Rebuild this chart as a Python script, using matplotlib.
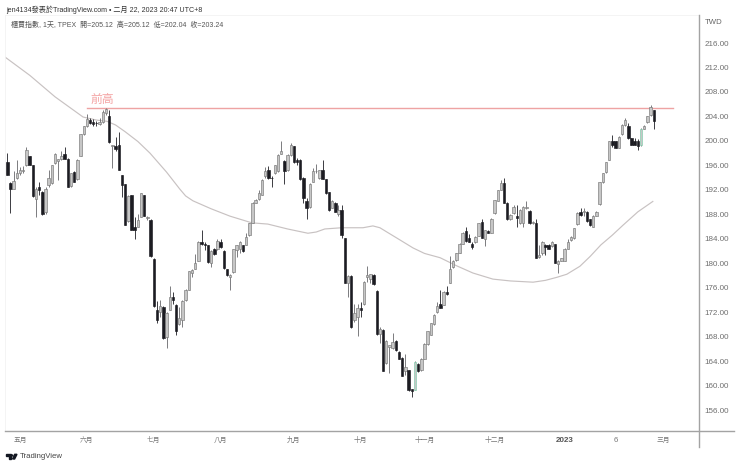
import matplotlib
matplotlib.use('Agg')
import matplotlib.pyplot as plt
from matplotlib.lines import Line2D
from matplotlib.patches import Polygon

plt.rcParams['font.family'] = ['Liberation Sans', 'Noto Sans CJK TC', 'DejaVu Sans']

W, H = 740, 467

opens = [196.6,193.1,192.1,193.9,194.7,195.1,196.0,197.5,196.0,190.5,192.4,191.7,188.4,192.8,193.1,196.4,196.7,197.1,197.9,197.1,
         192.6,194.9,193.7,197.6,201.1,202.4,203.4,203.1,203.0,202.7,203.1,204.5,204.0,199.1,199.2,199.3,194.4,192.9,186.9,191.1,
         186.0,186.0,187.6,191.1,187.4,187.1,180.7,172.3,172.1,172.9,167.9,172.3,174.5,173.2,170.1,170.7,174.0,175.7,178.4,179.1,
         180.4,183.5,183.1,182.9,180.1,182.4,182.3,183.5,182.0,179.0,177.8,178.5,182.2,182.4,182.9,183.0,184.6,186.6,189.9,190.5,
         191.2,194.2,195.2,194.0,194.7,195.0,197.9,196.7,195.2,197.7,199.1,196.9,196.9,194.0,190.2,189.2,193.3,195.0,193.9,195.2,
         193.7,191.6,189.1,189.9,188.0,188.7,184.1,176.7,177.9,170.7,171.2,172.7,173.3,177.8,177.5,178.1,175.5,168.4,169.1,163.7,
         166.3,166.1,167.3,165.5,164.5,162.3,162.5,159.4,159.3,163.6,162.5,164.4,166.8,168.3,170.0,172.0,173.4,173.2,175.3,176.7,
         179.3,180.5,181.7,183.2,185.3,184.1,183.1,183.4,184.5,186.7,184.0,185.3,185.0,188.2,190.2,192.0,193.1,189.9,187.2,188.2,
         187.7,186.5,186.5,189.0,188.6,186.5,186.5,181.0,181.6,183.0,183.0,182.8,183.1,179.9,180.4,180.4,182.4,183.8,184.1,186.4,
         188.4,188.3,188.4,187.2,186.0,187.8,189.6,193.2,194.9,196.9,199.9,199.9,198.9,201.1,202.6,202.5,200.4,200.0,199.9,199.3,
         202.0,203.1,204.2,205.1]
closes = [194.5,192.1,193.4,194.7,195.2,195.3,198.5,196.1,191.0,192.2,191.9,188.0,192.2,193.9,196.0,197.9,197.0,197.6,197.1,192.5,
          194.7,193.3,196.9,201.1,202.4,203.6,203.0,202.8,202.9,203.1,204.8,205.2,199.8,199.3,198.6,195.2,192.8,186.3,191.0,185.5,
          185.5,187.0,191.4,187.8,187.6,181.1,173.0,170.7,173.0,167.7,171.8,174.5,174.0,168.9,171.0,173.9,175.7,178.7,178.9,180.1,
          183.5,183.2,182.9,180.2,182.0,181.5,183.6,182.6,179.2,178.1,178.1,182.3,182.9,183.5,182.0,184.3,186.5,189.9,190.4,191.5,
          193.6,195.0,193.9,193.9,196.0,197.7,198.4,195.0,197.7,199.3,196.5,196.6,193.7,190.6,189.0,193.0,195.0,195.1,195.2,193.8,
          191.4,188.7,190.1,188.4,188.7,184.6,176.8,177.9,169.5,171.8,172.6,172.3,176.9,178.1,178.2,176.6,168.4,169.3,162.4,167.3,
          166.6,167.2,165.8,164.4,161.6,163.1,159.2,159.1,163.9,162.3,164.4,166.8,168.9,170.2,171.6,173.0,172.7,175.3,175.0,179.0,
          180.4,181.6,183.2,185.0,183.6,183.4,182.6,184.3,186.5,184.2,185.4,185.0,187.3,190.3,191.9,193.1,189.9,187.2,187.9,189.2,
          187.4,188.7,189.2,189.2,186.5,186.8,180.9,181.3,183.5,182.7,182.4,183.5,180.1,180.4,180.8,182.4,183.5,184.3,185.7,188.2,
          187.9,188.5,186.9,186.2,187.8,188.4,193.2,194.7,196.5,199.9,199.3,198.9,200.7,202.6,203.4,200.4,199.4,199.4,199.1,202.0,
          202.5,204.0,205.6,203.2]
highs = [198.1,193.2,195.0,196.8,195.7,195.9,199.0,197.6,196.1,192.5,193.3,191.8,192.5,195.2,196.1,198.1,197.1,198.3,199.0,197.2,
         194.8,195.0,197.0,201.2,202.5,204.4,203.7,203.5,203.3,203.7,205.0,205.3,205.0,199.4,200.7,201.5,194.4,193.0,191.1,191.2,
         187.6,188.0,191.5,191.2,187.7,187.2,180.8,173.9,174.0,173.0,172.1,176.2,175.3,173.3,172.9,174.0,175.8,178.8,179.0,181.5,
         183.6,185.4,183.4,183.0,182.2,182.5,183.9,183.9,182.1,179.1,178.3,182.4,183.0,183.6,183.0,184.9,186.6,190.0,190.5,191.9,
         193.7,195.7,195.9,194.3,196.1,197.8,200.0,196.9,197.8,199.6,199.2,197.2,197.0,194.1,190.6,193.1,195.5,196.2,195.3,196.8,
         193.8,191.7,190.3,190.0,189.5,189.5,184.2,178.0,178.0,173.4,173.4,173.7,177.1,179.6,178.3,178.2,175.6,169.5,169.2,167.4,
         166.7,168.6,167.4,165.6,164.6,165.2,162.6,159.5,164.0,163.7,164.5,166.9,169.0,170.3,171.7,173.6,175.7,175.4,176.2,181.2,
         180.5,181.7,183.3,185.1,186.0,184.8,183.5,184.5,186.6,187.3,185.5,185.4,187.4,190.4,192.0,193.6,193.9,190.0,188.0,189.5,
         189.5,188.8,189.4,190.2,188.7,186.9,187.3,183.0,183.7,183.1,183.1,183.7,183.2,180.5,180.9,182.5,183.9,184.4,185.8,188.3,
         189.0,189.0,188.6,187.3,187.9,188.6,193.3,194.8,196.6,200.0,200.9,200.0,200.8,202.7,203.7,202.9,200.5,200.4,200.3,202.1,
         202.6,204.1,205.9,205.1]
lows = [194.4,188.2,192.1,193.7,194.4,194.7,195.9,196.0,190.9,187.5,191.2,187.9,188.1,192.5,193.0,196.3,193.6,196.9,197.0,192.4,
        192.5,193.2,193.6,197.5,201.0,202.3,202.8,202.4,202.4,202.6,203.0,204.2,199.7,195.5,198.4,195.2,190.8,186.2,186.8,185.4,
        183.9,185.9,187.5,187.7,187.1,181.0,172.9,170.2,171.2,167.6,166.2,172.3,173.4,168.2,169.9,169.6,173.9,175.6,177.7,179.0,
        180.3,183.0,182.2,180.1,179.3,181.4,182.2,182.5,179.1,177.9,175.6,178.4,181.0,181.7,181.9,183.0,184.5,186.5,189.8,190.4,
        191.1,194.0,193.7,192.5,194.6,194.9,197.9,193.0,195.1,197.5,196.4,196.0,193.6,189.9,187.2,189.1,193.2,194.7,193.8,193.7,
        191.3,188.6,189.0,188.3,187.7,184.1,176.7,174.4,169.4,170.4,168.1,171.2,173.2,177.0,176.7,176.5,168.3,166.9,162.3,163.5,
        162.0,165.9,165.7,164.3,161.5,161.7,159.1,158.2,159.2,162.2,162.4,164.3,166.7,168.2,169.9,171.9,172.6,173.1,174.8,176.7,
        179.2,180.4,181.6,183.1,183.5,183.4,182.4,183.3,184.4,184.1,182.8,184.9,184.9,188.1,190.1,192.0,189.8,187.1,187.1,188.1,
        185.9,186.4,186.0,188.8,186.4,186.4,180.8,180.9,181.3,181.3,182.3,182.7,180.0,178.4,180.3,180.3,182.3,183.7,184.0,186.3,
        187.8,187.8,186.8,186.1,185.9,187.7,189.5,193.1,194.8,196.8,199.0,198.8,198.8,201.0,202.5,200.3,199.3,199.3,198.5,199.2,
        201.9,203.0,204.1,202.0]

ma_idx = [-0.7,7.1,15,23.8,28,31.3,34,37,41,44.8,50,54.2,56,58.3,64,69.9,76.8,81.8,88,94.4,97,99.7,105,111.7,114.8,117,119.2,123,127.4,131,135.9,141,146.2,152.5,158,165.1,169,172.6,175.7,179.8,183,186.4,190,193.3,198,202.7]
ma_vals = [213.7,210.7,207.2,203.9,203.4,203.2,202.6,201.5,199.9,198.0,194.9,192.1,191.0,190.2,188.9,187.7,186.6,186.4,185.6,184.9,185.1,185.6,185.8,185.8,186.1,185.8,185.1,183.9,182.5,181.6,180.9,179.6,178.4,177.4,177.1,176.9,177.2,177.7,178.2,179.5,181.1,183.0,184.6,186.2,188.4,190.1]

prev_high = 205.3
prev_high_start = 25
prev_high_end = 209

month_pos = [4, 25, 46, 67, 90, 111, 131, 153, 175, 191, 206]
month_labels = ['五月', '六月', '七月', '八月', '九月', '十月', '十一月', '十二月', '2023', '6', '三月']
price_ticks = list(range(156, 220, 4))
green_bars = [128, 199]

fig = plt.figure(figsize=(W / 100, H / 100), dpi=100)
ax = fig.add_axes([5 / W, 1 - 431 / H, 694 / W, 416 / H])
ax.set_xlim(-0.72, 217.2)
ax.set_ylim(152.57, 220.58)

ax.plot(ma_idx, ma_vals, color='#c8c2c2', lw=0.85, zorder=1)
ax.plot([prev_high_start, prev_high_end], [prev_high, prev_high], color='#eea3a3', lw=1, zorder=1)
ax.text(29.7, 206.7, '前高', color='#f4a3a3', fontsize=8.5, ha='center', va='center')

for i in range(len(opens)):
    up = closes[i] >= opens[i]
    ax.plot([i, i], [lows[i], highs[i]], color='#66666a' if up else '#1c1c22', lw=0.6, zorder=2, solid_capstyle='butt')
    bottom = min(opens[i], closes[i])
    height = abs(closes[i] - opens[i])
    if up:
        edge = '#7fceac' if i in green_bars else '#777777'
        ax.bar(i, height, bottom=bottom, width=0.76, color='#c6c6c6', edgecolor=edge, linewidth=0.45, zorder=3)
    else:
        ax.bar(i, height, bottom=bottom, width=0.76, color='#1c1c22', edgecolor='#1c1c22', linewidth=0.45, zorder=3)

ax.yaxis.tick_right()
ax.set_yticks(price_ticks)
ax.set_yticklabels([f'{p}.00' for p in price_ticks])
ax.set_xticks(month_pos)
ax.set_xticklabels(month_labels)
ax.tick_params(axis='y', length=0, pad=4, labelsize=5.8, labelcolor='#6e6e6e')
ax.tick_params(axis='x', length=0, pad=4, labelsize=4.9, labelcolor='#777777')
ax.get_xticklabels()[8].set_fontweight('bold')
ax.get_xticklabels()[8].set_fontsize(5.8)
ax.get_xticklabels()[8].set_color('#555555')
ax.get_xticklabels()[9].set_fontsize(5.6)

for side in ['top', 'left']:
    ax.spines[side].set_color('#f3f3f3')
    ax.spines[side].set_linewidth(0.6)
for side in ['right', 'bottom']:
    ax.spines[side].set_visible(False)


def px_line(x0, y0, x1, y1):
    fig.add_artist(Line2D([x0 / W, x1 / W], [1 - y0 / H, 1 - y1 / H], color='#a3a3a3', lw=1))


px_line(5, 431, 734, 431)
px_line(699, 15, 699, 447)

fig.text(6 / W, 1 - 9.3 / H, 'jen4134發表於TradingView.com • 二月 22, 2023 20:47 UTC+8', fontsize=5.1, color='#333333', va='center')
fig.text(11 / W, 1 - 25 / H, '櫃買指數, 1天, TPEX  開=205.12  高=205.12  低=202.04  收=203.24', fontsize=5.05, color='#555555', va='center')
fig.text(705 / W, 1 - 23 / H, 'TWD', fontsize=5.6, color='#666666', va='center')

# logo
logo = [[(6, 454.3), (10.8, 454.3), (10.8, 459), (8.6, 459), (8.6, 456.2), (6, 456.2)],
        [(12.6, 459), (14.8, 454.3), (17, 454.3), (14.6, 459)]]
for pts in logo:
    fig.add_artist(Polygon([(x / W, 1 - y / H) for x, y in pts], closed=True, color='#131722', transform=fig.transFigure))
fig.add_artist(Line2D([12 / W], [1 - 455.2 / H], marker='o', ms=1.6, mew=0, color='#131722', transform=fig.transFigure))
fig.text(19.5 / W, 1 - 457 / H, 'TradingView', fontsize=5.6, color='#444444', va='center')

fig.savefig('out.png', dpi=100)
